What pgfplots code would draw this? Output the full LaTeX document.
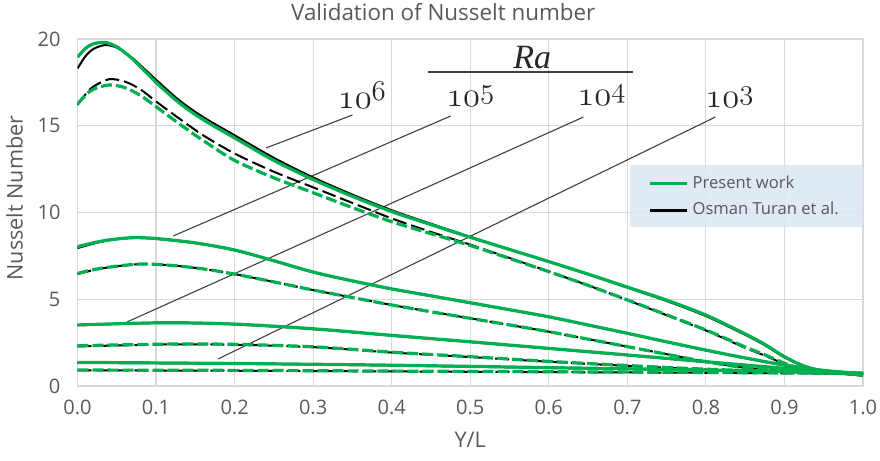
\documentclass[border=0pt]{standalone}
\usepackage{pgfplots}
\pgfplotsset{compat=1.18}
\usepackage{fontspec}
\setmainfont{Open Sans}
\newfontfamily\serifit{Liberation Serif}
\definecolor{pgreen}{RGB}{0,176,80}
\definecolor{txtgray}{RGB}{89,89,89}
\definecolor{gridgray}{RGB}{217,217,217}
\definecolor{lgblue}{RGB}{218,230,242}
\newcommand\osn[1]{{\fontencoding{OML}\fontfamily{cmm}\fontseries{m}\fontshape{it}\selectfont #1}}
\newcommand\rlab[1]{{\fontsize{19}{20}\selectfont\osn{10}\raisebox{4pt}{\fontsize{13.5}{14}\selectfont\osn{#1}}}}
\begin{document}
\begin{tikzpicture}
\begin{axis}[
  at={(0,0)}, anchor=south west,
  scale only axis, width=392.75pt, height=173.5pt,
  xmin=0, xmax=1, ymin=0, ymax=20,
  xtick={0,0.1,0.2,0.3,0.4,0.5,0.6,0.7,0.8,0.9,1},
  ytick={0,5,10,15,20},
  grid=major, major grid style={gridgray, line width=0.6pt},
  axis line style={gridgray, line width=0.6pt},
  tick style={draw=none},
  /pgf/number format/assume math mode=true,
  tick label style={font=\fontsize{10}{12}\selectfont, text=txtgray},
  xticklabel style={yshift=-3.5pt, /pgf/number format/.cd, fixed, fixed zerofill, precision=1},
  yticklabel style={xshift=-5pt},
  xlabel={Y/L}, ylabel={Nusselt Number},
  xlabel style={at={(axis description cs:0.5,0)}, anchor=center, yshift=-27pt},
  ylabel style={at={(axis description cs:0,0.542)}, anchor=center, rotate=0, yshift=31.5pt},
  label style={font=\fontsize{10.8}{13}\selectfont, text=txtgray},
  title={Validation of Nusselt number},
  title style={font=\fontsize{11.2}{13}\selectfont, text=txtgray, at={(axis description cs:0.4656,1)}, anchor=center, yshift=7.5pt},
  legend image code/.code={\draw[#1] (0pt,0pt) -- (18.5pt,0pt);},
  legend style={at={(0.7263,0.545)}, anchor=west, draw=none, fill=none,
    font=\fontsize{8.3}{10}\selectfont, text=txtgray, inner sep=0pt, row sep=1.5pt},
  legend cell align=left,
  blk/.style={black, line width=1pt, smooth, forget plot},
  grn/.style={pgreen, line width=1.6pt, smooth, forget plot},
  blkd/.style={black, line width=1pt, smooth, forget plot, dash pattern=on 7pt off 2.5pt},
  grnd/.style={pgreen, line width=1.6pt, smooth, forget plot, dash pattern=on 5.5pt off 2pt},
]
% legend background
\fill[lgblue, opacity=0.85] (axis description cs:0.7034,0.458) rectangle (axis description cs:1,0.637);
% leader lines and labels
\draw[black!75, line width=0.55pt] (axis cs:0.240,13.72) -- (axis cs:0.350,15.62);
\draw[black!75, line width=0.55pt] (axis cs:0.122,8.65) -- (axis cs:0.475,15.56);
\draw[black!75, line width=0.55pt] (axis cs:0.063,3.69) -- (axis cs:0.644,15.50);
\draw[black!75, line width=0.55pt] (axis cs:0.179,1.56) -- (axis cs:0.812,15.50);
\draw[black!75, line width=0.6pt] (axis cs:0.4465,18.10) -- (axis cs:0.7076,18.10);
\node[black!85] at (axis cs:0.579,18.95) {\fontsize{17}{17}\selectfont\serifit\itshape Ra};
\node[black!85] at (axis cs:0.362,16.77) {\rlab{6}};
\node[black!85] at (axis cs:0.500,16.71) {\rlab{5}};
\node[black!85] at (axis cs:0.667,16.77) {\rlab{4}};
\node[black!85] at (axis cs:0.830,16.65) {\rlab{3}};

% ---- Osman Turan et al. (black) ----
\addplot[blk] coordinates {(0,18.3)(0.01,19.0)(0.02,19.42)(0.035,19.65)(0.05,19.5)(0.07,18.9)(0.1,17.65)(0.13,16.45)(0.16,15.5)(0.2,14.45)(0.25,13.15)(0.3,12.02)(0.35,11.03)(0.4,10.13)(0.45,9.35)(0.5,8.6)(0.55,7.88)(0.6,7.17)(0.65,6.43)(0.7,5.67)(0.75,4.9)(0.8,4.03)(0.85,2.95)(0.875,2.35)(0.9,1.65)(0.925,1.12)(0.95,0.82)(0.975,0.7)(1.0,0.6)};
\addplot[blkd] coordinates {(0,16.2)(0.01,16.8)(0.02,17.25)(0.04,17.68)(0.06,17.55)(0.08,17.1)(0.1,16.4)(0.13,15.4)(0.16,14.45)(0.2,13.4)(0.25,12.35)(0.3,11.45)(0.35,10.55)(0.4,9.66)(0.45,8.88)(0.5,8.15)(0.55,7.38)(0.6,6.6)(0.65,5.8)(0.7,4.95)(0.75,4.08)(0.8,3.2)(0.85,2.2)(0.875,1.75)(0.9,1.27)(0.925,0.92)(0.95,0.78)(1.0,0.62)};
\addplot[blk] coordinates {(0,7.95)(0.02,8.2)(0.04,8.4)(0.07,8.53)(0.1,8.48)(0.15,8.23)(0.2,7.82)(0.25,7.2)(0.3,6.55)(0.35,6.04)(0.4,5.58)(0.45,5.18)(0.5,4.78)(0.55,4.38)(0.6,3.97)(0.65,3.5)(0.7,3.02)(0.75,2.53)(0.8,2.05)(0.85,1.6)(0.9,1.19)(0.95,0.88)(1.0,0.68)};
\addplot[blkd] coordinates {(0,6.45)(0.02,6.68)(0.04,6.84)(0.08,7.03)(0.12,6.95)(0.16,6.75)(0.2,6.45)(0.25,6.0)(0.3,5.53)(0.35,5.1)(0.4,4.67)(0.45,4.28)(0.5,3.9)(0.55,3.52)(0.6,3.13)(0.65,2.7)(0.7,2.27)(0.75,1.83)(0.8,1.4)(0.85,1.05)(0.9,0.85)(0.95,0.75)(1.0,0.66)};
\addplot[blk] coordinates {(0,3.5)(0.06,3.58)(0.12,3.63)(0.2,3.55)(0.3,3.28)(0.4,2.9)(0.5,2.53)(0.6,2.15)(0.7,1.77)(0.8,1.38)(0.9,1.0)(0.95,0.83)(1.0,0.7)};
\addplot[blkd] coordinates {(0,2.28)(0.12,2.4)(0.2,2.38)(0.3,2.24)(0.4,1.93)(0.5,1.67)(0.6,1.4)(0.7,1.16)(0.8,0.95)(0.9,0.8)(1.0,0.68)};
\addplot[blk] coordinates {(0,1.34)(0.2,1.28)(0.4,1.18)(0.6,1.04)(0.8,0.9)(1.0,0.73)};
\addplot[blkd] coordinates {(0,0.9)(0.2,0.88)(0.4,0.84)(0.6,0.8)(0.8,0.76)(1.0,0.7)};

% ---- Present work (green) ----
\addplot[grn] coordinates {(0,18.95)(0.01,19.45)(0.02,19.72)(0.035,19.8)(0.05,19.55)(0.07,18.85)(0.1,17.5)(0.13,16.3)(0.16,15.35)(0.2,14.3)(0.25,13.0)(0.3,11.9)(0.35,10.93)(0.4,10.05)(0.45,9.3)(0.5,8.57)(0.55,7.87)(0.6,7.17)(0.65,6.45)(0.7,5.70)(0.75,4.95)(0.8,4.09)(0.85,3.0)(0.875,2.4)(0.9,1.69)(0.925,1.15)(0.95,0.85)(0.975,0.75)(1.0,0.6)};
\addplot[grnd] coordinates {(0,16.25)(0.01,16.75)(0.02,17.1)(0.04,17.35)(0.06,17.2)(0.08,16.75)(0.1,16.1)(0.13,15.1)(0.16,14.15)(0.2,13.0)(0.25,12.0)(0.3,11.14)(0.35,10.28)(0.4,9.47)(0.45,8.78)(0.5,8.1)(0.55,7.35)(0.6,6.59)(0.65,5.8)(0.7,4.96)(0.75,4.1)(0.8,3.23)(0.85,2.25)(0.875,1.8)(0.9,1.31)(0.925,0.95)(0.95,0.8)(1.0,0.65)};
\addplot[grn] coordinates {(0,8.03)(0.02,8.25)(0.04,8.42)(0.07,8.55)(0.1,8.5)(0.15,8.25)(0.2,7.84)(0.25,7.22)(0.3,6.57)(0.35,6.06)(0.4,5.6)(0.45,5.2)(0.5,4.8)(0.55,4.4)(0.6,3.99)(0.65,3.52)(0.7,3.04)(0.75,2.55)(0.8,2.07)(0.85,1.62)(0.9,1.21)(0.95,0.9)(1.0,0.7)};
\addplot[grnd] coordinates {(0,6.49)(0.02,6.7)(0.04,6.85)(0.08,7.03)(0.12,6.95)(0.16,6.75)(0.2,6.45)(0.25,6.0)(0.3,5.53)(0.35,5.1)(0.4,4.67)(0.45,4.28)(0.5,3.9)(0.55,3.52)(0.6,3.13)(0.65,2.7)(0.7,2.27)(0.75,1.83)(0.8,1.4)(0.85,1.05)(0.9,0.85)(0.95,0.75)(1.0,0.68)};
\addplot[grn] coordinates {(0,3.52)(0.06,3.6)(0.12,3.65)(0.2,3.57)(0.3,3.3)(0.4,2.92)(0.5,2.55)(0.6,2.17)(0.7,1.79)(0.8,1.40)(0.9,1.02)(0.95,0.85)(1.0,0.72)};
\addplot[grnd] coordinates {(0,2.32)(0.12,2.42)(0.2,2.4)(0.3,2.26)(0.4,1.95)(0.5,1.69)(0.6,1.42)(0.7,1.18)(0.8,0.97)(0.9,0.82)(1.0,0.7)};
\addplot[grn] coordinates {(0,1.36)(0.2,1.3)(0.4,1.2)(0.6,1.06)(0.8,0.92)(1.0,0.75)};
\addplot[grnd] coordinates {(0,0.92)(0.2,0.9)(0.4,0.86)(0.6,0.82)(0.8,0.78)(1.0,0.72)};

\addlegendimage{pgreen, line width=1.6pt}
\addlegendentry{Present work}
\addlegendimage{black, line width=1.6pt}
\addlegendentry{Osman Turan et al.}
\end{axis}
\pgfresetboundingbox
\path[use as bounding box] (-38.75pt,-37.5pt) rectangle (401.25pt,193pt);
\end{tikzpicture}
\end{document}
